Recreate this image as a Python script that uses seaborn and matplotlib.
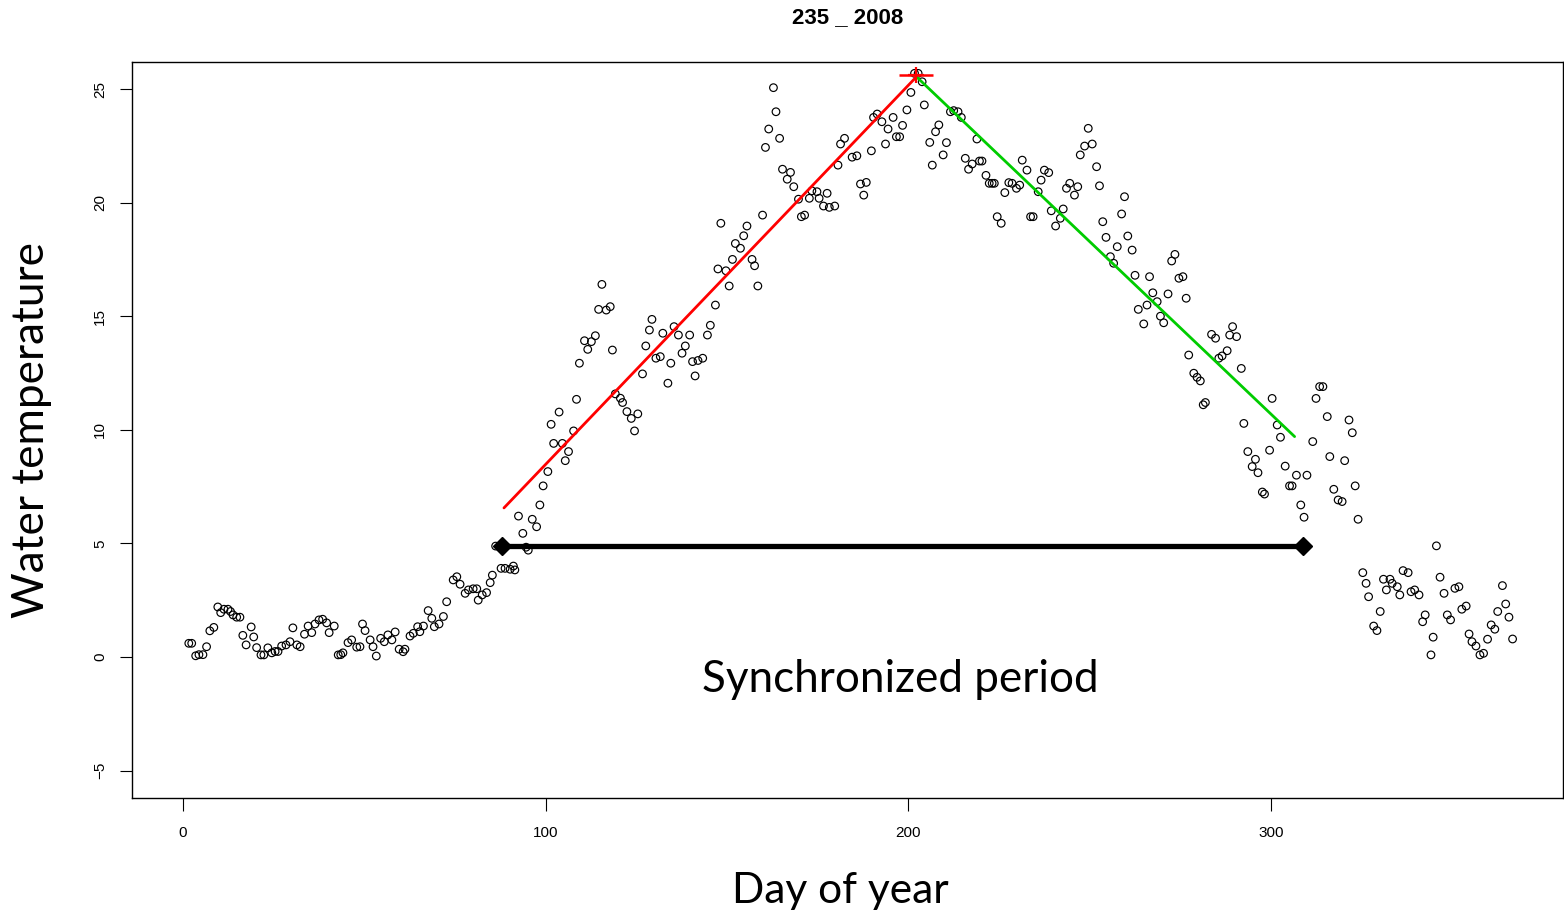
import matplotlib
matplotlib.use("Agg")
import matplotlib.pyplot as plt
import seaborn as sns
import pandas as pd

# ---------------- data ----------------
day_a = [1.6, 2.4, 3.5, 4.4, 5.5, 6.5, 7.4, 8.5, 9.6, 10.4, 11.3, 12.4, 13.1, 13.8, 14.8,
         15.7, 16.5, 17.4, 18.8, 19.5, 20.3, 21.5, 22.3, 23.4, 24.5, 25.4, 26.2, 27.2, 28.4,
         29.5, 30.3, 31.4, 32.3, 33.5, 34.5, 35.5, 36.4, 37.5, 38.5, 39.6, 40.3, 41.7, 42.8,
         43.5, 44.1, 45.5, 46.5, 47.9, 48.8, 49.5, 50.2, 51.6, 52.4, 53.3, 54.5, 55.5, 56.5,
         57.6, 58.5, 59.6, 60.7]
temp_a = [0.6, 0.6, 0.05, 0.1, 0.1, 0.45, 1.15, 1.3, 2.2, 1.95, 2.1, 2.1, 2.0, 1.85, 1.75,
          1.75, 0.95, 0.53, 1.32, 0.88, 0.41, 0.09, 0.09, 0.4, 0.18, 0.24, 0.24, 0.48, 0.53,
          0.67, 1.28, 0.53, 0.45, 1.0, 1.36, 1.07, 1.45, 1.63, 1.66, 1.5, 1.07, 1.36, 0.09,
          0.1, 0.18, 0.63, 0.75, 0.43, 0.45, 1.45, 1.16, 0.75, 0.45, 0.04, 0.82, 0.67, 0.97,
          0.75, 1.1, 0.34, 0.23]

day_b = [61.2, 62.6, 63.5, 64.7, 65.3, 66.3, 67.6, 68.6, 69.3, 70.6, 71.8, 72.7, 74.5, 75.5,
         76.4, 77.8, 78.7, 80.0, 81.0, 81.4, 82.5, 83.7, 84.7, 85.3, 86.2, 87.7, 88.8, 90.2,
         91.1, 91.5, 92.5, 93.7, 94.6, 95.2, 96.3, 97.5, 98.4, 99.3, 100.6]
temp_b = [0.34, 0.92, 1.04, 1.33, 1.11, 1.36, 2.04, 1.7, 1.33, 1.45, 1.78, 2.43, 3.39, 3.53,
          3.2, 2.8, 2.95, 3.0, 3.0, 2.5, 2.73, 2.83, 3.27, 3.6, 4.88, 3.9, 3.9, 3.86,
          4.0, 3.83, 6.2, 5.44, 4.83, 4.7, 6.06, 5.73, 6.69, 7.53, 8.16]

day_c = [101.5, 102.2, 103.7, 104.6, 105.4, 106.3, 107.7, 108.5, 109.3, 110.7, 111.6, 112.6,
         113.7, 114.6, 115.5, 116.7, 117.8, 118.4, 119.2, 120.6, 121.2, 122.4, 123.6, 124.5,
         125.4, 126.7, 127.6, 128.6, 129.3, 130.4, 131.6, 132.3, 133.7, 134.5, 135.4, 136.6,
         137.6, 138.5, 139.7, 140.5, 141.2, 142.0, 143.3, 144.6, 145.4]
temp_c = [10.24, 9.4, 10.78, 9.4, 8.64, 9.04, 9.95, 11.34, 12.93, 13.92, 13.54, 13.88,
          14.14, 15.3, 16.4, 15.27, 15.42, 13.51, 11.58, 11.39, 11.2, 10.8, 10.5, 9.95,
          10.7, 12.46, 13.69, 14.39, 14.86, 13.15, 13.22, 14.25, 12.05, 12.93, 14.54, 14.17,
          13.37, 13.69, 14.17, 13.0, 12.37, 13.05, 13.15, 14.17, 14.6]

day_d = [146.8, 147.5, 148.3, 149.7, 150.6, 151.5, 152.3, 153.7, 154.6, 155.5, 156.9, 157.6,
         158.5, 159.8, 160.6, 161.5, 162.8, 163.5, 164.5, 165.3, 166.6, 167.5, 168.4, 169.7,
         170.5, 171.4, 172.7, 173.4, 174.8, 175.4, 176.6, 177.6, 178.2, 179.7, 180.6, 181.3,
         182.4, 184.5, 185.8, 186.8, 187.7, 188.4, 189.8, 190.4, 191.4, 192.7, 193.7, 194.4,
         195.8, 196.7, 197.6, 198.4, 199.6, 200.7, 201.7, 202.7, 203.8, 204.4, 205.9, 206.6,
         207.5, 208.4, 209.6, 210.5, 211.6, 212.5, 213.7, 214.6, 215.7, 216.6, 217.6, 218.9,
         219.6, 220.3, 221.4, 222.3]
temp_d = [15.49, 17.08, 19.09, 17.0, 16.33, 17.5, 18.2, 17.99, 18.54, 18.97, 17.5, 17.22,
          16.33, 19.45, 22.43, 23.24, 25.06, 24.0, 22.83, 21.47, 21.03, 21.33, 20.7, 20.15,
          19.38, 19.45, 20.19, 20.52, 20.48, 20.19, 19.85, 20.41, 19.79, 19.85, 21.65, 22.58,
          22.83, 22.0, 22.06, 20.82, 20.33, 20.89, 22.28, 23.75, 23.9, 23.56, 22.58, 23.24,
          23.75, 22.9, 22.9, 23.4, 24.08, 24.85, 25.69, 25.69, 25.32, 24.3, 22.65, 21.65,
          23.12, 23.42, 22.1, 22.64, 24.0, 24.05, 24.0, 23.75, 21.95, 21.47, 21.7, 22.8,
          21.83, 21.83, 21.2, 20.85]

day_e = [223.1, 223.7, 224.5, 225.6, 226.6, 227.7, 228.6, 229.8, 230.7, 231.4, 232.7, 233.7,
         234.4, 235.8, 236.6, 237.5, 238.7, 239.4, 240.6, 241.9, 242.7, 243.6, 244.5, 245.8,
         246.7, 247.4, 248.6, 249.6, 250.7, 251.9, 252.7, 253.6, 254.5, 255.7, 256.6, 257.6,
         258.8, 259.6, 260.5, 261.7, 262.5, 263.4, 264.9, 265.8, 266.5, 267.4, 268.6, 269.5,
         270.4, 271.6, 272.6, 273.5, 274.6, 275.7, 276.6, 277.3, 278.7, 279.6, 280.5, 281.3,
         281.9, 283.6, 284.7, 285.6, 286.5, 287.9, 288.6, 289.4, 290.5, 291.8, 292.5, 293.6,
         294.8, 295.7, 296.4, 297.6, 298.2, 299.6, 300.3]
temp_e = [20.85, 20.85, 19.38, 19.09, 20.44, 20.88, 20.85, 20.63, 20.77, 21.87, 21.43, 19.38,
          19.38, 20.48, 20.99, 21.43, 21.32, 19.64, 18.97, 19.31, 19.72, 20.63, 20.85, 20.33,
          20.7, 22.1, 22.49, 23.27, 22.58, 21.58, 20.74, 19.16, 18.47, 17.62, 17.33, 18.06,
          19.5, 20.26, 18.53, 17.91, 16.8, 15.3, 14.66, 15.49, 16.74, 16.03, 15.64, 15.0,
          14.71, 15.98, 17.43, 17.72, 16.67, 16.74, 15.79, 13.29, 12.49, 12.31, 12.15, 11.1,
          11.2, 14.2, 14.03, 13.15, 13.25, 13.48, 14.17, 14.54, 14.1, 12.7, 10.28, 9.04,
          8.38, 8.7, 8.11, 7.26, 7.17, 9.1, 11.38]

day_f = [301.7, 302.6, 303.9, 305.1, 305.8, 307.0, 308.2, 309.1, 309.9, 311.5, 312.4, 313.4,
         314.3, 315.5, 316.2, 317.3, 318.5, 319.6, 320.3, 321.5, 322.4, 323.2, 324.0, 325.3,
         326.2, 326.9, 328.3, 329.2, 330.1, 331.0, 331.8, 332.8, 333.4, 334.8, 335.5, 336.4,
         337.8, 338.6, 339.6, 340.8, 341.8, 342.5, 344.1, 344.7, 345.6, 346.6, 347.7, 348.6,
         349.5, 350.7, 351.8, 352.6, 353.8, 354.6, 355.4, 356.5, 357.6, 358.6, 359.7, 360.7,
         361.7, 362.5, 363.8, 364.7, 365.6, 366.6]
temp_f = [10.21, 9.67, 8.4, 7.53, 7.53, 8.0, 6.69, 6.15, 8.0, 9.48, 11.38, 11.9,
          11.9, 10.58, 8.82, 7.38, 6.91, 6.84, 8.64, 10.43, 9.87, 7.53, 6.06, 3.71,
          3.24, 2.65, 1.36, 1.16, 2.0, 3.42, 2.95, 3.42, 3.24, 3.09, 2.73, 3.8,
          3.71, 2.87, 2.95, 2.73, 1.55, 1.85, 0.09, 0.87, 4.89, 3.51, 2.8, 1.85,
          1.63, 3.02, 3.09, 2.1, 2.24, 1.01, 0.67, 0.48, 0.09, 0.16, 0.78, 1.41,
          1.22, 2.0, 3.14, 2.33, 1.75, 0.79]

# fitted warming / cooling segments, peak and synchronized period
warm_days = [88.5, 202.0]
warm_temps = [6.56, 25.5]
cool_days = [202.5, 306.5]
cool_temps = [25.5, 9.7]
peak_day = [202.0]
peak_temp = [25.6]
sync_days = [88.0, 308.8]
sync_temps = [4.9, 4.9]

title = "235 _ 2008"
x_label = "Day of year"
y_label = "Water temperature"
sync_label = "Synchronized period"
x_ticks = [0, 100, 200, 300]
y_ticks = [-5, 0, 5, 10, 15, 20, 25]

# ---------------- plot ----------------
sns.set_theme(style="ticks")
plt.rcParams["font.family"] = ["Liberation Sans", "DejaVu Sans"]
plt.rcParams["text.color"] = "black"
plt.rcParams["axes.labelcolor"] = "black"

big_font = ["Lato", "DejaVu Sans"]

df = pd.DataFrame({
    "day": day_a + day_b + day_c + day_d + day_e + day_f,
    "temp": temp_a + temp_b + temp_c + temp_d + temp_e + temp_f,
})

fig = plt.figure(figsize=(15.64, 9.15), dpi=100)
ax = fig.add_axes([132 / 1564, 1 - 798 / 915, (1563 - 132) / 1564, (798 - 62) / 915])

sns.scatterplot(data=df, x="day", y="temp", ax=ax, s=30, marker="o",
                facecolor="none", edgecolor="black", linewidth=0.85, zorder=3)

sns.lineplot(x=warm_days, y=warm_temps, ax=ax, color="#ff0000", linewidth=2.0,
             zorder=4, estimator=None, sort=False)
sns.lineplot(x=cool_days, y=cool_temps, ax=ax, color="#00cc00", linewidth=2.0,
             zorder=4, estimator=None, sort=False)
ax.plot(peak_day, peak_temp, marker="+", color="#ff0000", markersize=12,
        markeredgewidth=1.6, linestyle="none", zorder=5)
ax.plot(peak_day, peak_temp, marker="_", color="#ff0000", markersize=24,
        markeredgewidth=1.8, linestyle="none", zorder=5)
ax.plot(sync_days, sync_temps, color="black", linewidth=3.8, marker="D",
        markersize=9, zorder=6)

ax.text(197.7, -1.0, sync_label, ha="center", va="center", fontsize=31.7,
        family=big_font, color="black")

ax.set_xlim(-14.06, 380.5)
ax.set_ylim(-6.21, 26.19)
ax.set_xticks(x_ticks)
ax.set_yticks(y_ticks)
ax.tick_params(axis="both", direction="out", length=9, width=0.8, colors="black",
               labelsize=11, pad=11)
ax.tick_params(axis="y", labelrotation=90, pad=9)
for lbl in ax.get_yticklabels():
    lbl.set_va("center")

for sp in ax.spines.values():
    sp.set_visible(True)
    sp.set_color("black")
    sp.set_linewidth(1.0)

ax.set_xlabel(x_label, fontsize=30.6, family=big_font, color="black")
ax.set_ylabel(y_label, fontsize=31.8, family=big_font, color="black")
ax.xaxis.set_label_coords(0.495, -0.1)
ax.yaxis.set_label_coords(-0.056, 0.5)

fig.text(848 / 1564, 1 - 18 / 915, title, ha="center", va="center",
         fontsize=16, fontweight="bold", color="black")

fig.savefig("out.png", dpi=100)
